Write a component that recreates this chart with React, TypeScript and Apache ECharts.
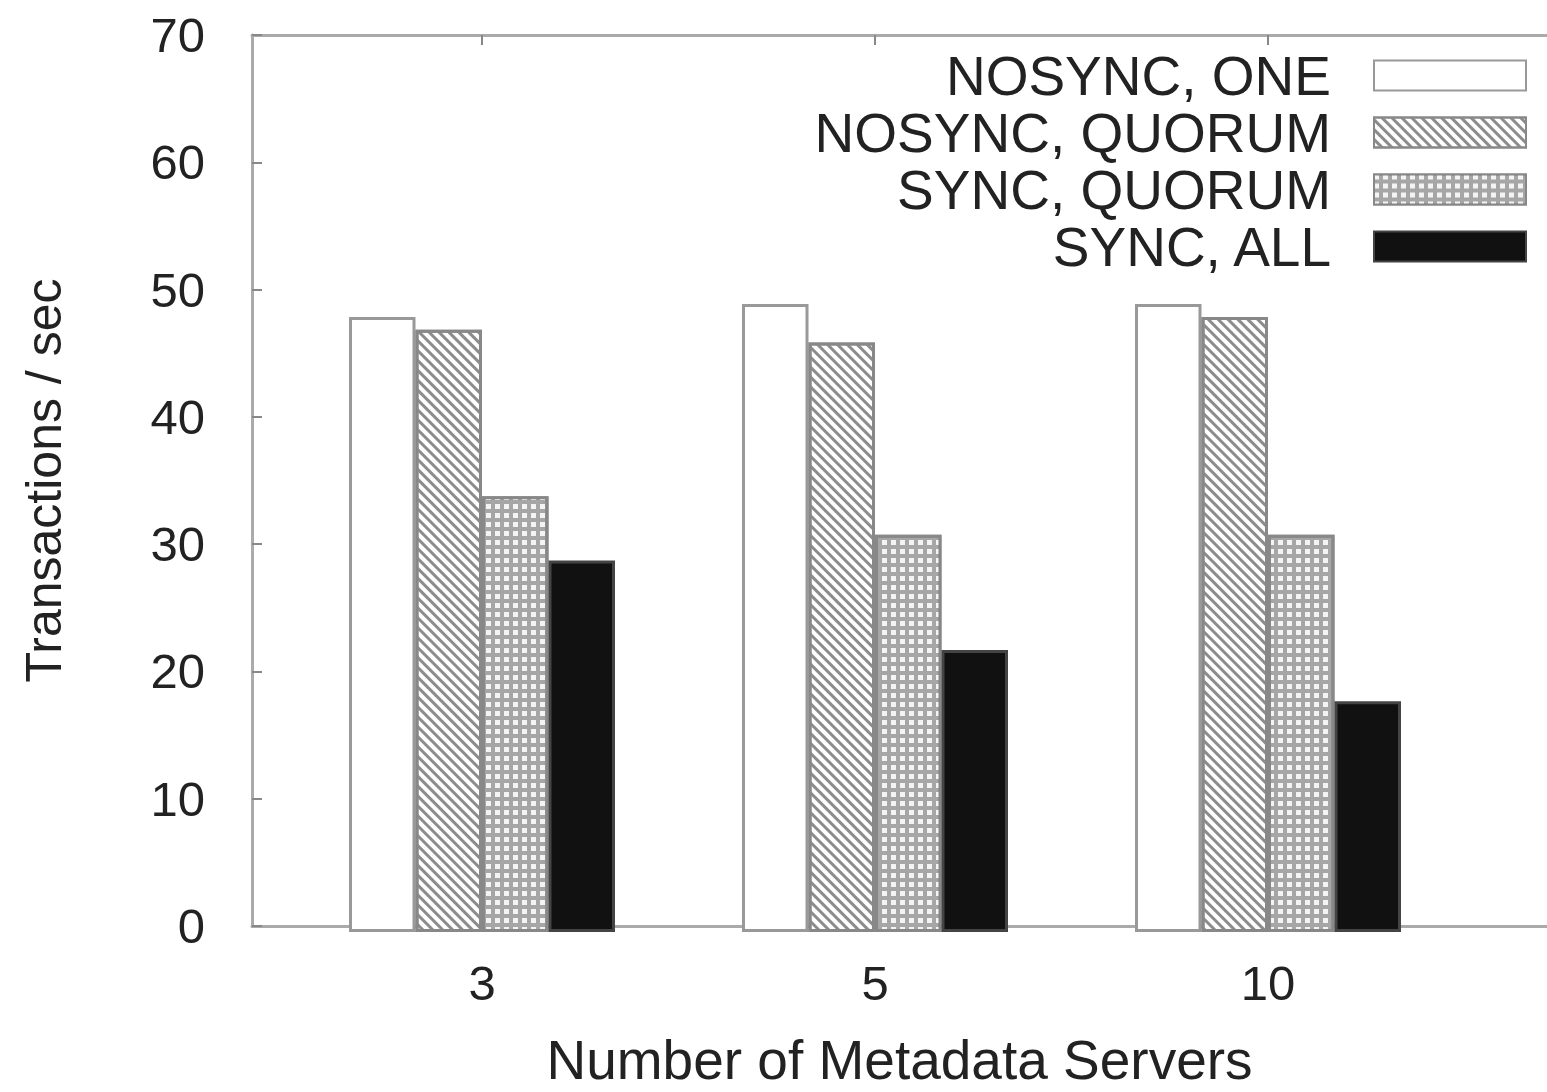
import React, { useEffect, useRef } from "react";
import * as echarts from "echarts";

const categories = ["3", "5", "10"];
const seriesNames = ["NOSYNC, ONE", "NOSYNC, QUORUM", "SYNC, QUORUM", "SYNC, ALL"];
const nosyncOne = [48, 49, 49];
const nosyncQuorum = [47, 46, 48];
const syncQuorum = [34, 31, 31];
const syncAll = [29, 22, 18];
const yMin = 0;
const yMax = 70;
const yInterval = 10;

const FONT = "Liberation Sans";
const TXT = "#222";
const FRAME = "#aaa";

export default function App() {
  const ref = useRef<HTMLDivElement>(null);
  useEffect(() => {
    if (!ref.current) return;
    const chart = echarts.init(ref.current, null, { renderer: "svg" });
    const hatch = {
      symbol: "rect",
      symbolSize: 1,
      color: "#8c8c8c",
      dashArrayX: [1, 0],
      dashArrayY: [2.5, 4],
      rotation: Math.PI / 4,
    };
    const checker = {
      symbol: "rect",
      symbolSize: 1,
      color: "#f4f4f4",
      dashArrayX: [5, 4],
      dashArrayY: [5, 4],
      rotation: 0,
    };
    const styles = [
      { color: "#fff", borderColor: "#999", borderWidth: 3 },
      { color: "#fff", borderColor: "#888", borderWidth: 3, decal: hatch },
      { color: "#a6a6a6", borderColor: "#888", borderWidth: 3, decal: checker },
      { color: "#111", borderColor: "#444", borderWidth: 3 },
    ];
    const values = [nosyncOne, nosyncQuorum, syncQuorum, syncAll];
    chart.setOption({
      animation: false,
      backgroundColor: "#fff",
      grid: [
        { left: 285.5, top: 35, width: 1179, height: 897 },
        { left: 252, top: 35, width: 1298, height: 897 },
      ],
      legend: {
        orient: "vertical",
        right: 15,
        top: 43,
        align: "right",
        icon: "rect",
        itemWidth: 152,
        itemHeight: 30,
        itemGap: 2,
        data: seriesNames,
        textStyle: {
          fontFamily: FONT,
          fontSize: 55,
          color: TXT,
          padding: [0, 38, 0, 0],
        },
      },
      xAxis: [
        {
          type: "category",
          gridIndex: 0,
          data: categories,
          position: "bottom",
          axisLine: { show: false },
          axisTick: { show: false },
          axisLabel: { fontFamily: FONT, fontSize: 49, color: TXT, margin: 26 },
        },
        {
          type: "value",
          gridIndex: 1,
          position: "bottom",
          min: 0,
          max: 1,
          axisLine: { show: true, lineStyle: { color: FRAME, width: 3 } },
          axisTick: { show: false },
          axisLabel: { show: false },
          splitLine: { show: false },
          name: "Number of Metadata Servers",
          nameLocation: "middle",
          nameGap: 106,
          nameTextStyle: { fontFamily: FONT, fontSize: 55, color: TXT },
        },
        {
          type: "value",
          gridIndex: 1,
          position: "top",
          min: 0,
          max: 1,
          axisLine: { show: true, lineStyle: { color: FRAME, width: 3 } },
          axisTick: { show: false },
          axisLabel: { show: false },
          splitLine: { show: false },
        },
        {
          type: "category",
          gridIndex: 0,
          data: categories,
          position: "top",
          axisLine: { show: false },
          axisTick: { show: true, inside: true, alignWithLabel: true, length: 10, lineStyle: { color: "#888", width: 2 } },
          axisLabel: { show: false },
        },
      ],
      yAxis: [
        {
          type: "value",
          gridIndex: 0,
          min: yMin,
          max: yMax,
          interval: yInterval,
          show: false,
        },
        {
          type: "value",
          gridIndex: 1,
          min: yMin,
          max: yMax,
          interval: yInterval,
          axisLine: { show: true, lineStyle: { color: FRAME, width: 3 } },
          axisTick: { show: true, inside: true, length: 10, lineStyle: { color: "#888", width: 2 } },
          axisLabel: { fontFamily: FONT, fontSize: 49, color: TXT, margin: 47 },
          splitLine: { show: false },
          name: "Transactions / sec",
          nameLocation: "middle",
          nameGap: 183,
          nameTextStyle: { fontFamily: FONT, fontSize: 50, color: TXT },
        },
      ],
      series: seriesNames.map((name, i) => ({
        type: "bar",
        name,
        xAxisIndex: 0,
        yAxisIndex: 0,
        data: values[i],
        barWidth: 66.5,
        barGap: "0%",
        itemStyle: styles[i],
      })),
    });
    return () => chart.dispose();
  }, []);
  return (
    <div
      ref={ref}
      style={{ position: "fixed", left: 0, top: 0, width: 1547, height: 1092 }}
    />
  );
}
